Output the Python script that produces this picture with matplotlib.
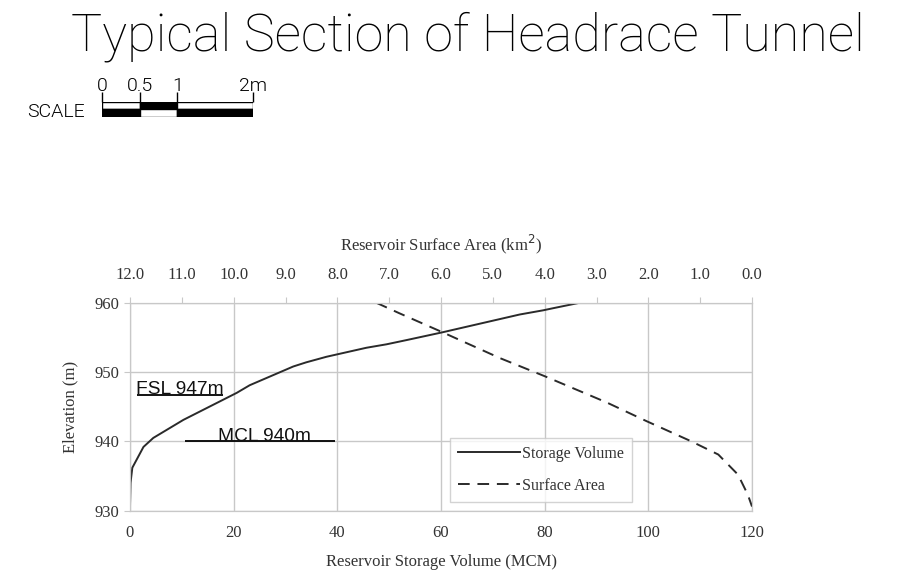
import matplotlib.pyplot as plt
import numpy as np

# storage curve (bottom axis, MCM) vs elevation
storage_vol = [0, 0.1, 0.45, 2.6, 4.5, 10.3, 20.6, 23.1, 31.5, 34.0, 37.9,
               45.6, 49.5, 53.3, 60.1, 75.2, 79.7, 81.6, 86.8]
storage_elev = [930.6, 934.0, 936.2, 939.2, 940.5, 943.1, 947.0, 948.1, 950.8,
                951.4, 952.2, 953.5, 954.0, 954.6, 955.7, 958.3, 958.9, 959.2, 960.0]

# surface area curve (top axis, km2) vs elevation
area_km2 = [7.25, 6.81, 5.99, 4.86, 4.0, 2.8, 2.03, 1.17, 0.65, 0.27, 0.08, 0.0]
area_elev = [960.0, 958.5, 955.8, 952.0, 949.4, 945.6, 942.9, 940.0, 938.1,
             935.2, 932.3, 930.6]

vol_ticks = [0, 20, 40, 60, 80, 100, 120]
area_ticks = [12, 11, 10, 9, 8, 7, 6, 5, 4, 3, 2, 1, 0]
elev_ticks = [930, 940, 950, 960]

# hand-drawn level marks (line elevation as drawn, x span in MCM)
fsl_elev = 946.7
fsl_span = [1.3, 18.0]
mcl_elev = 940.0
mcl_span = [10.6, 39.5]

scale_ticks = [0, 0.5, 1, 2]
scale_labels = ['0', '0.5', '1', '2m']
scale_top = ['white', 'black', 'white']
scale_bottom = ['black', 'white', 'black']

W, H = 909, 583
fig = plt.figure(figsize=(W / 100, H / 100), dpi=100)

thin = dict(family=['Roboto', 'DejaVu Sans'], fontweight=100)
light = dict(family=['Roboto', 'DejaVu Sans'], fontweight=300)
serif = ['Liberation Serif', 'DejaVu Serif']
txt = '#333333'
grey = '#c8c8c8'
ink = '#2a2a2a'

# title
fig.text(468 / W, 1 - 37 / H, 'Typical Section of Headrace Tunnel',
         ha='center', va='center', fontsize=37.5, color='black', **thin)

# scale bar
sb = fig.add_axes([102 / W, 1 - 116.7 / H, 150.5 / W, 15 / H])
left = scale_ticks[:-1]
widths = np.diff(scale_ticks)
sb.bar(left, 0.5, width=widths, bottom=0.5, align='edge', color=scale_top,
       edgecolor='black', linewidth=1)
sb.bar(left, 0.5, width=widths, bottom=0, align='edge', color=scale_bottom,
       edgecolor='black', linewidth=1)
sb.set_xlim(0, 2)
sb.set_ylim(0, 1)
sb.set_yticks([])
sb.xaxis.tick_top()
sb.set_xticks(scale_ticks, scale_labels, fontsize=14, **light)
sb.tick_params(axis='x', length=7.5, width=1, pad=-2.5)
for s in sb.spines.values():
    s.set_visible(False)
fig.text(27 / W, 1 - 116.7 / H, 'SCALE', ha='left', va='baseline', fontsize=14, **light)

# chart
ax = fig.add_axes([130 / W, 1 - 510.7 / H, 622 / W, 208 / H])
ax.plot(storage_vol, storage_elev, color=ink, lw=1.4, label='Storage Volume')
ax.set_xlim(0, 120)
ax.set_ylim(930, 960)
ax.set_xticks(vol_ticks)
ax.set_yticks(elev_ticks)
ax.grid(True, color=grey, lw=1)
for s in ax.spines.values():
    s.set_color(grey)
ax.tick_params(colors=grey, labelcolor=txt, labelsize=12, length=4)
ax.tick_params(axis='x', length=0, pad=10)
for lab in ax.get_xticklabels() + ax.get_yticklabels():
    lab.set_family(serif)
ax.set_xlabel('Reservoir Storage Volume (MCM)', family=serif, fontsize=12,
              color=txt, labelpad=10)
ax.set_ylabel('Elevation (m)', family=serif, fontsize=12, color=txt, labelpad=12)

ax2 = ax.twiny()
ax2.plot(area_km2, area_elev, color=ink, lw=1.4, ls=(0, (6, 4)), label='Surface Area')
ax2.set_xlim(12, 0)
ax2.set_xticks(area_ticks, ['%.1f' % a for a in area_ticks])
ax2.tick_params(colors=grey, labelcolor=txt, labelsize=12, length=4, pad=10)
for lab in ax2.get_xticklabels():
    lab.set_family(serif)
for s in ax2.spines.values():
    s.set_color(grey)
ax2.set_xlabel('Reservoir Surface Area (km$^2$)', family=serif, fontsize=12,
               color=txt, labelpad=12)

# FSL / MCL marks
sans = ['Liberation Sans', 'DejaVu Sans']
ax.hlines(fsl_elev, fsl_span[0], fsl_span[1], color='black', lw=1.3)
ax.text(1.2, fsl_elev + 0.12, 'FSL 947m', fontsize=13.8, family=sans,
        color='#111111', ha='left', va='baseline')
ax.hlines(mcl_elev, mcl_span[0], mcl_span[1], color='black', lw=1.3)
ax.text(17.0, mcl_elev + 0.12, 'MCL 940m', fontsize=13.8, family=sans,
        color='#111111', ha='left', va='baseline')

h1, l1 = ax.get_legend_handles_labels()
h2, l2 = ax2.get_legend_handles_labels()
leg = ax2.legend(h1 + h2, l1 + l2, loc='lower left', bbox_to_anchor=(320 / 622, 8.7 / 208),
                 borderaxespad=0, prop={'family': serif, 'size': 11.5}, frameon=True,
                 fancybox=False, handlelength=3.9, handletextpad=0.1, borderpad=0.5,
                 labelspacing=1.0)
leg.get_frame().set_edgecolor(grey)
leg.get_frame().set_linewidth(1)
for t in leg.get_texts():
    t.set_color(txt)

fig.savefig('out.png', dpi=100)
